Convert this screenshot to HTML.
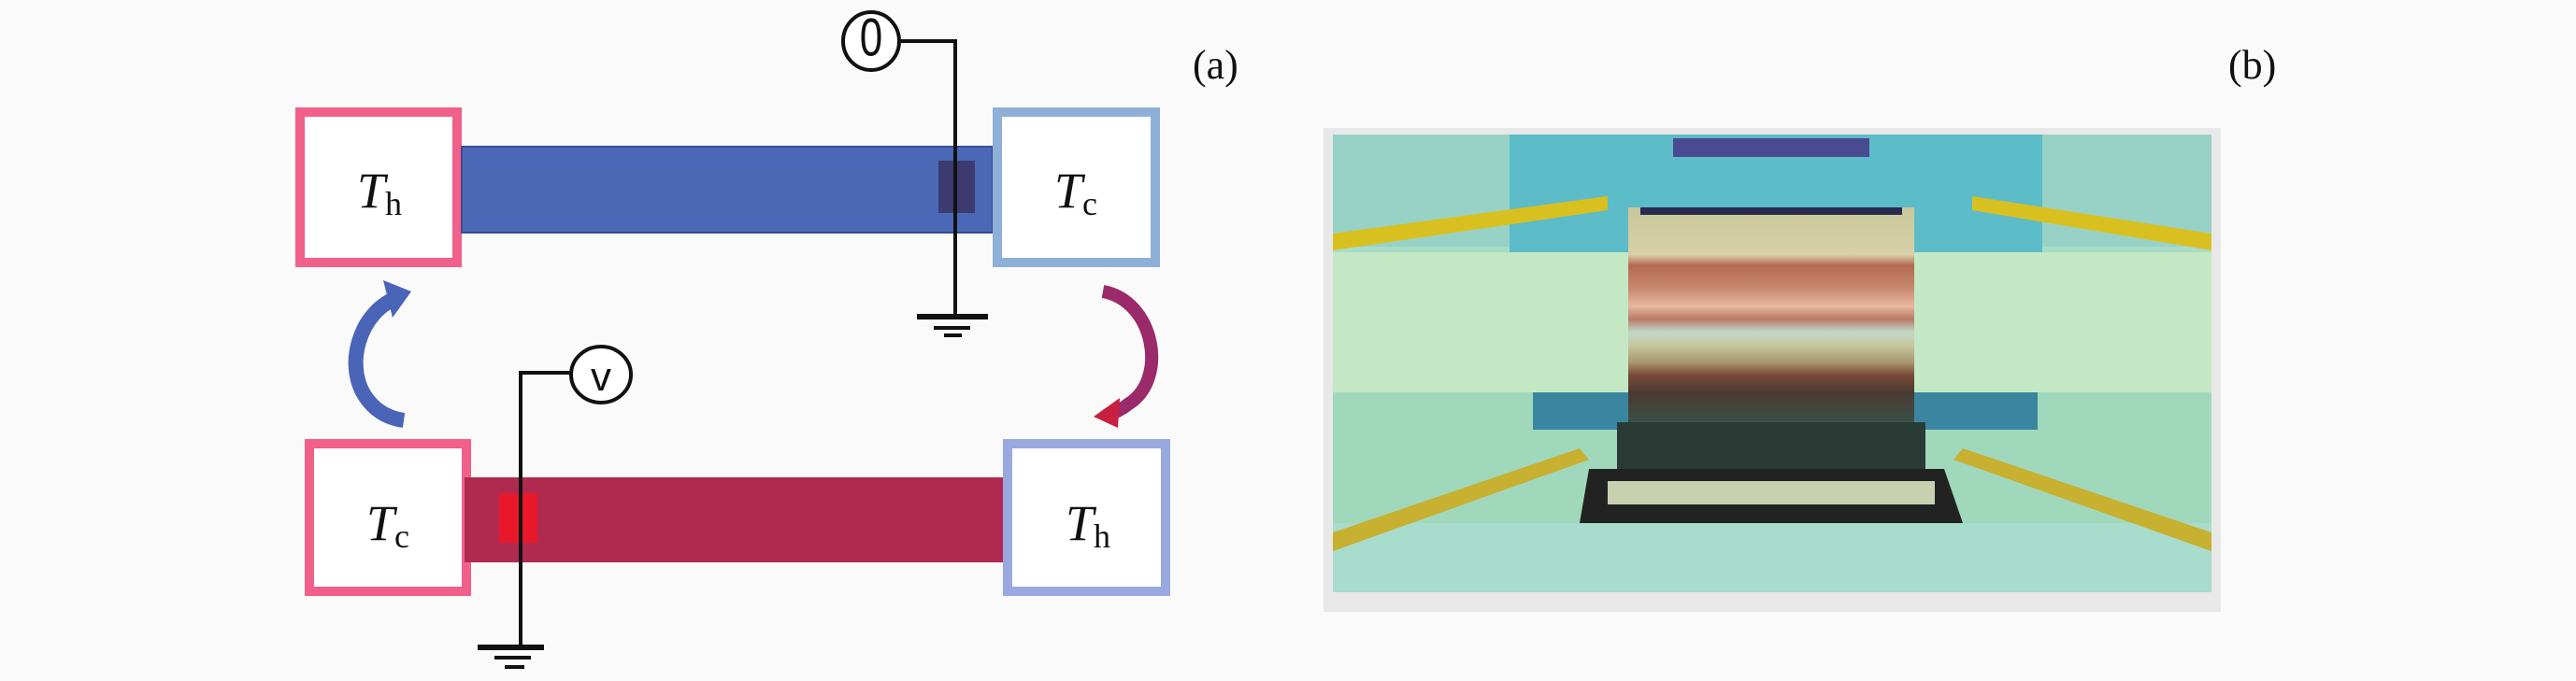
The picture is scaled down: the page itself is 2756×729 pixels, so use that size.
<!DOCTYPE html>
<html><head><meta charset="utf-8"><style>
html,body{margin:0;padding:0;background:#fafafa;}
body{width:2756px;height:729px;overflow:hidden;position:relative;}
svg{position:absolute;left:0;top:0;}
</style></head><body>
<svg width="2756" height="729" viewBox="0 0 2756 729" xmlns="http://www.w3.org/2000/svg">
<defs>
<linearGradient id="stk" x1="0" y1="0" x2="0" y2="1">
<stop offset="0" stop-color="#c8c89a"/>
<stop offset="0.22" stop-color="#d8d0a8"/>
<stop offset="0.27" stop-color="#b46a50"/>
<stop offset="0.38" stop-color="#c88a70"/>
<stop offset="0.46" stop-color="#e8b8a0"/>
<stop offset="0.52" stop-color="#b87a66"/>
<stop offset="0.58" stop-color="#c0d8c8"/>
<stop offset="0.64" stop-color="#c8c8a0"/>
<stop offset="0.72" stop-color="#a89870"/>
<stop offset="0.78" stop-color="#7a4a38"/>
<stop offset="0.86" stop-color="#4a3a30"/>
<stop offset="1" stop-color="#3a5048"/>
</linearGradient>
</defs>
<!-- top row -->
<rect x="321" y="120" width="168" height="161" fill="#fff" stroke="#f0608a" stroke-width="10"/>
<rect x="494" y="157" width="568" height="92" fill="#4a68b6" stroke="#3a4c90" stroke-width="2"/>
<rect x="1067" y="120" width="169" height="161" fill="#fff" stroke="#8eb0d8" stroke-width="10"/>
<rect x="1004" y="172" width="39" height="56" fill="#3c3a6e"/>
<polyline points="964,44 1022,44 1022,339" fill="none" stroke="#111" stroke-width="4"/>
<line x1="981" y1="339" x2="1057" y2="339" stroke="#111" stroke-width="6"/>
<line x1="999" y1="351" x2="1038" y2="351" stroke="#111" stroke-width="4"/>
<line x1="1010" y1="359" x2="1029" y2="359" stroke="#111" stroke-width="4"/>
<ellipse cx="932" cy="44" rx="30" ry="31" fill="#fff" stroke="#111" stroke-width="4"/>
<text transform="translate(932,44) scale(1,1.3)" x="0" y="12" font-family="Liberation Sans, sans-serif" font-size="44" text-anchor="middle" fill="#111">0</text>
<text x="382" y="222" font-family="Liberation Serif, serif" font-size="54" font-style="italic" fill="#111">T</text>
<text x="412" y="230" font-family="Liberation Serif, serif" font-size="36" fill="#111">h</text>
<text x="1128" y="222" font-family="Liberation Serif, serif" font-size="54" font-style="italic" fill="#111">T</text>
<text x="1158" y="230" font-family="Liberation Serif, serif" font-size="36" fill="#111">c</text>
<text x="1276" y="84" font-family="Liberation Serif, serif" font-size="44" fill="#111">(a)</text>
<!-- arrows -->
<path d="M428,318 C385,330 365,395 395,430 C405,442 418,448 432,450" fill="none" stroke="#4a64b8" stroke-width="16"/>
<polygon points="410,300 440,312 420,340" fill="#4a64b8"/>
<path d="M1180,312 C1235,322 1250,405 1208,432 C1198,440 1190,443 1182,445" fill="none" stroke="#9a2a6a" stroke-width="14"/>
<polygon points="1170,446 1198,426 1196,458" fill="#c82040"/>
<!-- bottom row -->
<rect x="331" y="475" width="168" height="158" fill="#fff" stroke="#f0608a" stroke-width="10"/>
<rect x="497" y="511" width="576" height="91" fill="#b02a50"/>
<rect x="1078" y="475" width="169" height="158" fill="#fff" stroke="#9aa8e0" stroke-width="10"/>
<rect x="534" y="528" width="41" height="53" fill="#e8182a"/>
<polyline points="610,399 557,399 557,693" fill="none" stroke="#111" stroke-width="4"/>
<line x1="511" y1="693" x2="582" y2="693" stroke="#111" stroke-width="6"/>
<line x1="529" y1="704" x2="568" y2="704" stroke="#111" stroke-width="4"/>
<line x1="540" y1="714" x2="561" y2="714" stroke="#111" stroke-width="4"/>
<ellipse cx="643" cy="401" rx="32" ry="30" fill="#fff" stroke="#111" stroke-width="4"/>
<text x="643" y="418" font-family="Liberation Sans, sans-serif" font-size="44" text-anchor="middle" fill="#111">v</text>
<text x="392" y="578" font-family="Liberation Serif, serif" font-size="54" font-style="italic" fill="#111">T</text>
<text x="422" y="586" font-family="Liberation Serif, serif" font-size="36" fill="#111">c</text>
<text x="1140" y="578" font-family="Liberation Serif, serif" font-size="54" font-style="italic" fill="#111">T</text>
<text x="1170" y="586" font-family="Liberation Serif, serif" font-size="36" fill="#111">h</text>
<!-- photo -->
<text x="2384" y="84" font-family="Liberation Serif, serif" font-size="44" fill="#111">(b)</text>
<rect x="1416" y="137" width="960" height="518" fill="#e8e8e8"/>
<rect x="1426" y="144" width="940" height="490" fill="#a8dcc8"/>
<rect x="1426" y="144" width="940" height="120" fill="#98d2c6"/>
<rect x="1615" y="144" width="570" height="130" fill="#5cbcc8"/>
<rect x="1426" y="270" width="940" height="150" fill="#c4e8c4"/>
<rect x="1426" y="420" width="940" height="140" fill="#a0d8bc"/>
<rect x="1426" y="560" width="940" height="74" fill="#a8dccc"/>
<polygon points="1426,250 1720,210 1720,225 1426,268" fill="#d8c020"/>
<polygon points="2366,250 2110,210 2110,225 2366,268" fill="#d8c020"/>
<polygon points="1426,570 1690,480 1700,492 1426,590" fill="#c8b030"/>
<polygon points="2366,570 2100,480 2090,492 2366,590" fill="#c8b030"/>
<rect x="1640" y="420" width="540" height="40" fill="#3a86a0"/>
<rect x="1742" y="222" width="306" height="230" fill="url(#stk)"/>
<rect x="1730" y="452" width="330" height="50" fill="#2a3a34"/>
<polygon points="1700,502 2080,502 2100,560 1690,560" fill="#222"/>
<rect x="1720" y="515" width="350" height="25" fill="#c8d0b0"/>
<rect x="1755" y="222" width="280" height="8" fill="#2a2a50"/>
<rect x="1790" y="148" width="210" height="20" fill="#4a4a90"/>
</svg>
</body></html>
